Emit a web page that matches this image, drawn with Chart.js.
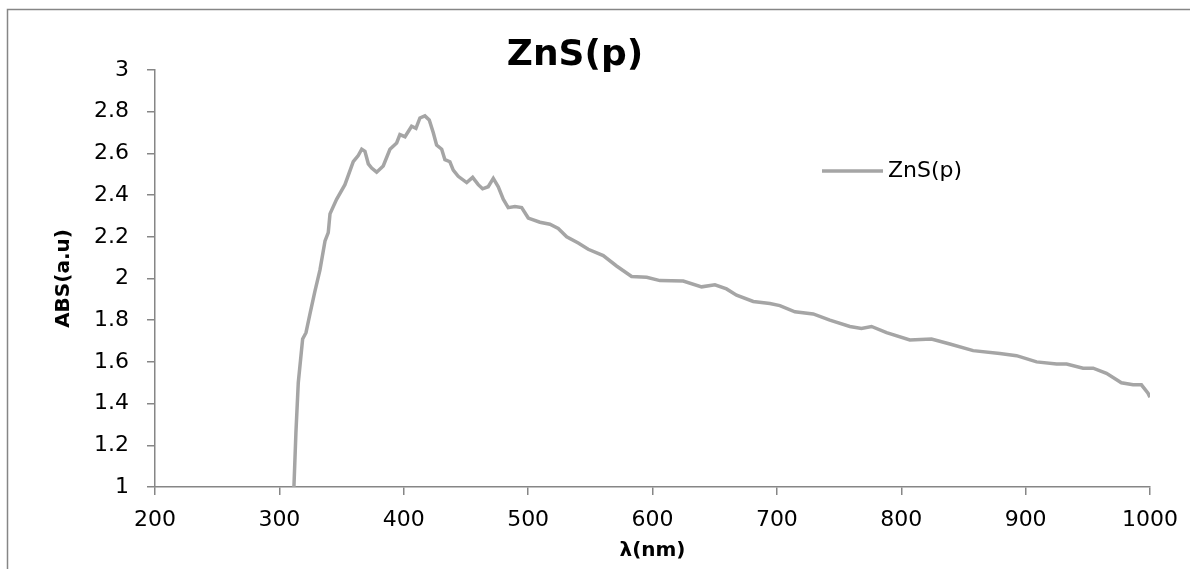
<!DOCTYPE html>
<html>
<head>
<meta charset="utf-8">
<script src="https://cdn.jsdelivr.net/npm/chart.js@4/dist/chart.umd.min.js"></script>
<style>
  html, body { margin: 0; padding: 0; background: #fff; }
  #wrap { position: relative; width: 1190px; height: 569px; }
</style>
</head>
<body>
<div id="wrap"><canvas id="chart"></canvas></div>
<script>
// wavelength (nm) and absorbance
const wavelength = [311.7, 313.3, 315.2, 318.7, 321.4, 324.6, 328.6, 332.6, 336.7, 339.3,
  340.7, 346, 352.7, 359.4, 363.4, 366.2, 368.8, 371.5, 374.2, 378.2,
  383.5, 388.9, 394.3, 396.9, 401, 406.3, 409.8, 413, 417, 420.5,
  423.7, 426.4, 430.5, 433.1, 437.1, 439.8, 443.8, 450.6, 455.4, 459.9,
  463.4, 467.9, 472, 476, 480, 484, 489.4, 494.8, 500.1, 509.5,
  517.5, 524.2, 531, 540.3, 548.3, 560.4, 571.1, 583.2, 595.3, 606,
  624.7, 639.5, 650.2, 659.5, 667.6, 681, 694.4, 702.4, 714.5, 729.2,
  742.6, 758.7, 768, 776.1, 788.2, 806.9, 824.3, 839.1, 857.8, 879.3,
  892.7, 908.8, 924.9, 933, 946.2, 954.3, 965, 977, 986.4, 993.1,
  998.4, 1000];
const absorbance = [1.00, 1.26, 1.50, 1.71, 1.74, 1.83, 1.94, 2.04, 2.18, 2.22,
  2.31, 2.38, 2.45, 2.56, 2.59, 2.62, 2.61, 2.55, 2.53, 2.51,
  2.54, 2.62, 2.65, 2.69, 2.68, 2.73, 2.72, 2.77, 2.78, 2.76,
  2.70, 2.64, 2.62, 2.57, 2.56, 2.52, 2.49, 2.46, 2.485, 2.45,
  2.43, 2.44, 2.48, 2.44, 2.38, 2.34, 2.345, 2.34, 2.29, 2.27,
  2.26, 2.24, 2.20, 2.17, 2.14, 2.11, 2.06, 2.01, 2.006, 1.99,
  1.988, 1.96, 1.97, 1.95, 1.92, 1.89, 1.88, 1.87, 1.84, 1.83,
  1.80, 1.77, 1.76, 1.77, 1.74, 1.705, 1.71, 1.686, 1.654, 1.64,
  1.63, 1.60, 1.59, 1.59, 1.57, 1.57, 1.545, 1.50, 1.49, 1.49,
  1.45, 1.43];

const seriesName = 'ZnS(p)';
const xTicks = [200, 300, 400, 500, 600, 700, 800, 900, 1000];

const axisColor = '#868686';
const lineColor = '#a5a5a5';

// frame + legend drawn inside the plot, like the spreadsheet chart
const framePlugin = {
  id: 'frame',
  beforeDraw(chart) {
    const c = chart.ctx;
    c.save();
    c.strokeStyle = axisColor;
    c.lineWidth = 1.5;
    c.beginPath();
    c.moveTo(7.5, chart.height);
    c.lineTo(7.5, 9.5);
    c.lineTo(chart.width, 9.5);
    c.stroke();
    c.restore();
  },
  afterDraw(chart) {
    const c = chart.ctx;
    const ds = chart.data.datasets[0];
    const x0 = 822, y0 = 171;
    c.save();
    c.strokeStyle = ds.borderColor;
    c.lineWidth = 3.5;
    c.beginPath();
    c.moveTo(x0, y0);
    c.lineTo(x0 + 61, y0);
    c.stroke();
    c.fillStyle = '#000';
    c.font = '22px "DejaVu Sans"';
    c.textBaseline = 'middle';
    c.fillText(ds.label, x0 + 66, y0);
    c.restore();
  }
};

new Chart(document.getElementById('chart'), {
  type: 'line',
  data: {
    datasets: [{
      label: seriesName,
      data: wavelength.map((w, i) => ({ x: w, y: absorbance[i] })),
      borderColor: lineColor,
      borderWidth: 3.5,
      pointRadius: 0,
      tension: 0,
      fill: false
    }]
  },
  options: {
    responsive: true,
    maintainAspectRatio: false,
    animation: false,
    layout: { padding: { left: 0, right: 40, top: 0, bottom: 0 } },
    plugins: {
      legend: { display: false },
      tooltip: { enabled: false },
      title: {
        display: true,
        text: seriesName,
        color: '#000',
        font: { family: 'DejaVu Sans', size: 36, weight: 'bold', lineHeight: 1 },
        padding: { top: 38, bottom: -4 }
      }
    },
    scales: {
      x: {
        type: 'linear',
        min: 200,
        max: 1000,
        afterBuildTicks(scale) { scale.ticks = xTicks.map(v => ({ value: v })); },
        afterFit(scale) { scale.height = 82; },
        border: { color: axisColor, width: 1.5 },
        grid: { display: true, drawOnChartArea: false, drawTicks: true, tickLength: 8, color: axisColor, lineWidth: 1.5 },
        ticks: { color: '#000', font: { family: 'DejaVu Sans', size: 22 }, padding: 12, maxRotation: 0,
                 callback: v => String(v) },
        title: {
          display: true,
          text: 'λ(nm)',
          color: '#000',
          font: { family: 'DejaVu Sans', size: 20, weight: 'bold', lineHeight: 1.2 },
          padding: { top: 0, bottom: 6 }
        }
      },
      y: {
        min: 1,
        max: 3,
        afterFit(scale) { scale.width = 155; },
        border: { color: axisColor, width: 1.5 },
        grid: { display: true, drawOnChartArea: false, drawTicks: true, tickLength: 8, color: axisColor, lineWidth: 1.5 },
        ticks: { stepSize: 0.2, color: '#000', font: { family: 'DejaVu Sans', size: 22 }, padding: 18,
                 callback: v => String(+v.toFixed(1)) },
        title: {
          display: true,
          text: 'ABS(a.u)',
          color: '#000',
          font: { family: 'DejaVu Sans', size: 20, weight: 'bold', lineHeight: 1.2 },
          padding: { top: 52, bottom: 0 }
        }
      }
    }
  },
  plugins: [framePlugin]
});
</script>
</body>
</html>
